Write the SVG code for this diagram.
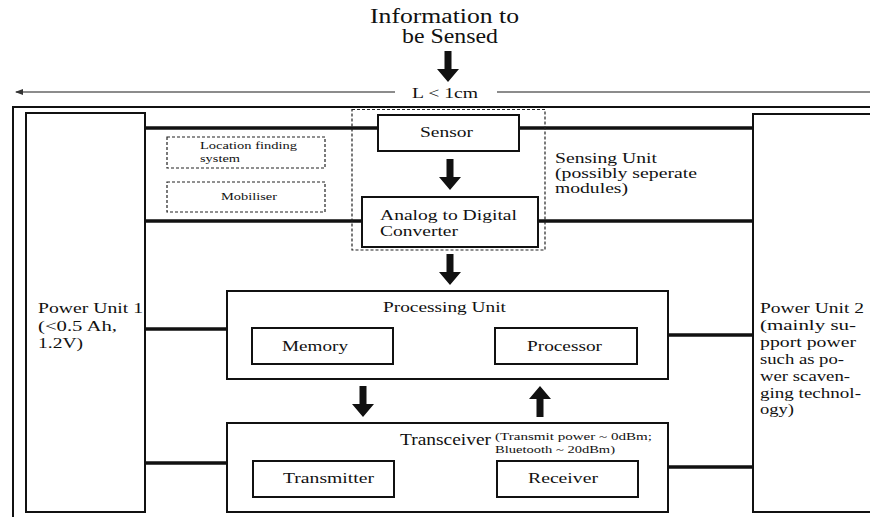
<svg xmlns="http://www.w3.org/2000/svg" width="870" height="517" viewBox="0 0 870 517">
<style>
text{font-family:"Liberation Serif","Times New Roman",serif;fill:#111}
.t{font-size:15px}
.s{font-size:11px}
.box{fill:#fff;stroke:#111;stroke-width:2}
.dash{fill:none;stroke:#222;stroke-width:1.2;stroke-dasharray:3 2}
.wire{stroke:#111;stroke-width:3.5;fill:none}
.arr{fill:#111}
</style>
<defs>
<marker id="la" markerWidth="8" markerHeight="6" refX="1" refY="3" orient="auto" markerUnits="userSpaceOnUse">
<path d="M8,0 L0,3 L8,6 z" fill="#333"/>
</marker>
<path id="down" d="M-3.5,0 H3.5 V18 H11 L0,31 L-11,18 H-3.5 Z"/>
</defs>
<rect width="870" height="517" fill="#fff"/>

<g id="title">
<text x="444.5" y="23" font-size="20" text-anchor="middle" textLength="149" lengthAdjust="spacingAndGlyphs">Information to</text>
<text x="450" y="43" font-size="20" text-anchor="middle" textLength="96" lengthAdjust="spacingAndGlyphs">be Sensed</text>
</g>

<g id="length">
<line x1="16" y1="92" x2="395" y2="92" stroke="#666" stroke-width="1.3" marker-start="url(#la)"/>
<line x1="497" y1="92" x2="870" y2="92" stroke="#666" stroke-width="1.3"/>
<text x="412" y="98" class="t" textLength="66" lengthAdjust="spacingAndGlyphs">L &lt; 1cm</text>
</g>

<g id="frame">
<rect x="13" y="107" width="880" height="430" fill="none" stroke="#111" stroke-width="2"/>
</g>

<g id="connectors">
<line class="wire" x1="145" y1="128" x2="378" y2="128"/>
<line class="wire" x1="519" y1="128" x2="753" y2="128"/>
<line class="wire" x1="145" y1="221" x2="362" y2="221"/>
<line class="wire" x1="538" y1="221" x2="753" y2="221"/>
<line class="wire" x1="145" y1="329" x2="227" y2="329"/>
<line class="wire" x1="668" y1="335" x2="753" y2="335"/>
<line class="wire" x1="145" y1="463" x2="227" y2="463"/>
<line class="wire" x1="668" y1="467" x2="753" y2="467"/>
<use href="#down" class="arr" x="448" y="51"/>
<use href="#down" class="arr" x="450" y="159"/>
<use href="#down" class="arr" x="450" y="254"/>
<use href="#down" class="arr" x="363" y="386"/>
<use href="#down" class="arr" transform="translate(540,417) scale(1,-1)"/>
<path class="arr" d="M463,331 V337 H440 V343 L422,334 L440,325 V331 Z"/>
<path class="arr" d="M424,354 V360 H448 V366 L466,357 L448,348 V354 Z"/>
</g>

<g id="power1">
<rect class="box" x="26" y="113" width="119" height="399"/>
<text x="38" y="313" class="t" textLength="105" lengthAdjust="spacingAndGlyphs">Power Unit 1</text>
<text x="38" y="331" class="t" textLength="79" lengthAdjust="spacingAndGlyphs">(&lt;0.5 Ah,</text>
<text x="38" y="348" class="t" textLength="45" lengthAdjust="spacingAndGlyphs">1.2V)</text>
</g>

<g id="power2">
<rect class="box" x="753" y="114" width="130" height="398"/>
<text x="760" y="313" class="t" textLength="104" lengthAdjust="spacingAndGlyphs">Power Unit 2</text>
<text x="760" y="330" class="t" textLength="96" lengthAdjust="spacingAndGlyphs">(mainly su-</text>
<text x="760" y="347" class="t" textLength="96" lengthAdjust="spacingAndGlyphs">pport power</text>
<text x="760" y="364" class="t" textLength="84" lengthAdjust="spacingAndGlyphs">such as po-</text>
<text x="760" y="381" class="t" textLength="90" lengthAdjust="spacingAndGlyphs">wer scaven-</text>
<text x="760" y="398" class="t" textLength="101" lengthAdjust="spacingAndGlyphs">ging technol-</text>
<text x="760" y="414" class="t" textLength="34" lengthAdjust="spacingAndGlyphs">ogy)</text>
</g>

<g id="sensing-unit">
<rect class="dash" x="352" y="109.5" width="193" height="140.5"/>
<text x="555" y="163" class="t" textLength="102" lengthAdjust="spacingAndGlyphs">Sensing Unit</text>
<text x="555" y="178" class="t" textLength="142" lengthAdjust="spacingAndGlyphs">(possibly seperate</text>
<text x="555" y="193" class="t" textLength="73" lengthAdjust="spacingAndGlyphs">modules)</text>
</g>

<g id="sensor">
<rect class="box" x="378" y="115" width="141" height="36"/>
<text x="420" y="137" class="t" textLength="53" lengthAdjust="spacingAndGlyphs">Sensor</text>
</g>

<g id="location">
<rect class="dash" x="167" y="137" width="158" height="31"/>
<text x="200" y="149" class="s" textLength="97" lengthAdjust="spacingAndGlyphs">Location finding</text>
<text x="200" y="162" class="s" textLength="40" lengthAdjust="spacingAndGlyphs">system</text>
</g>

<g id="mobiliser">
<rect class="dash" x="167" y="182" width="158" height="30"/>
<text x="221" y="200" class="s" textLength="56" lengthAdjust="spacingAndGlyphs">Mobiliser</text>
</g>

<g id="adc">
<rect class="box" x="362" y="197" width="176" height="50"/>
<text x="380" y="220" class="t" textLength="137" lengthAdjust="spacingAndGlyphs">Analog to Digital</text>
<text x="380" y="236" class="t" textLength="78" lengthAdjust="spacingAndGlyphs">Converter</text>
</g>

<g id="processing">
<rect class="box" x="227" y="291" width="441" height="88"/>
<text x="383" y="312" class="t" textLength="123" lengthAdjust="spacingAndGlyphs">Processing Unit</text>
</g>

<g id="memory">
<rect class="box" x="252" y="328" width="141" height="36"/>
<text x="282" y="351" class="t" textLength="66" lengthAdjust="spacingAndGlyphs">Memory</text>
</g>

<g id="processor">
<rect class="box" x="495" y="328" width="142" height="36"/>
<text x="527" y="351" class="t" textLength="75" lengthAdjust="spacingAndGlyphs">Processor</text>
</g>

<g id="transceiver">
<rect class="box" x="227" y="423" width="441" height="89"/>
<text x="400" y="445" font-size="16" textLength="91" lengthAdjust="spacingAndGlyphs">Transceiver</text>
<text x="495" y="440" class="s" textLength="157" lengthAdjust="spacingAndGlyphs">(Transmit power ~ 0dBm;</text>
<text x="495" y="453" class="s" textLength="120" lengthAdjust="spacingAndGlyphs">Bluetooth ~ 20dBm)</text>
</g>

<g id="transmitter">
<rect class="box" x="253" y="461" width="141" height="36"/>
<text x="283" y="483" class="t" textLength="91" lengthAdjust="spacingAndGlyphs">Transmitter</text>
</g>

<g id="receiver">
<rect class="box" x="497" y="461" width="141" height="36"/>
<text x="528" y="483" class="t" textLength="70" lengthAdjust="spacingAndGlyphs">Receiver</text>
</g>
</svg>
